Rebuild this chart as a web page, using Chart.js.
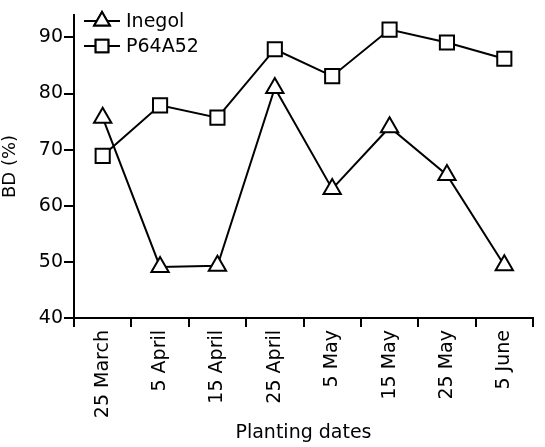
<!DOCTYPE html>
<html>
<head>
  <title>BD by planting date</title>
  <script src="https://cdn.jsdelivr.net/npm/chart.js"></script>
  <style>
    html, body { margin: 0; padding: 0; background: #fff; }
    #wrap { width: 545px; height: 447px; }
  </style>
</head>
<body>
  <div id="wrap"><canvas id="myChart" width="545" height="447"></canvas></div>

  <script>
    // Data
    var dates = ['25 March', '5 April', '15 April', '25 April', '5 May', '15 May', '25 May', '5 June'];
    var inegol = [75.7, 49.1, 49.3, 81, 63, 74, 65.5, 49.4];
    var p64a52 = [68.9, 77.9, 75.7, 87.9, 83.1, 91.4, 89.1, 86.2];
    var yTicks = [40, 50, 60, 70, 80, 90];

    var FONT = 'DejaVu Sans';

    // legend drawn inside the plot, line through marker like the figure
    var insideLegend = {
      id: 'insideLegend',
      afterDraw: function(chart) {
        var ctx = chart.ctx;
        var area = chart.chartArea;
        ctx.save();
        chart.data.datasets.forEach(function(ds, i) {
          var y = area.top + 6 + i * 25;
          var x0 = area.left + 10;
          ctx.strokeStyle = '#000';
          ctx.lineWidth = 2;
          ctx.beginPath();
          ctx.moveTo(x0, y);
          ctx.lineTo(x0 + 36, y);
          ctx.stroke();
          ctx.fillStyle = '#fff';
          Chart.helpers.drawPoint(ctx, {
            pointStyle: ds.pointStyle, radius: 9, borderWidth: 2
          }, x0 + 18, y);
          ctx.fill();
          ctx.stroke();
          ctx.fillStyle = '#000';
          ctx.font = '19px ' + FONT;
          ctx.textBaseline = 'middle';
          ctx.textAlign = 'left';
          ctx.fillText(ds.label, x0 + 42, y + 1);
        });
        ctx.restore();
      }
    };

    var ctx = document.getElementById('myChart').getContext('2d');
    var myChart = new Chart(ctx, {
      type: 'line',
      data: {
        labels: dates,
        datasets: [{
          label: 'Inegol',
          data: inegol,
          borderColor: '#000',
          borderWidth: 2,
          pointStyle: 'triangle',
          pointRadius: 10,
          pointBorderWidth: 2,
          pointBackgroundColor: '#fff',
          pointBorderColor: '#000',
          tension: 0
        }, {
          label: 'P64A52',
          data: p64a52,
          borderColor: '#000',
          borderWidth: 2,
          pointStyle: 'rect',
          pointRadius: 10,
          pointBorderWidth: 2,
          pointBackgroundColor: '#fff',
          pointBorderColor: '#000',
          tension: 0
        }]
      },
      options: {
        responsive: false,
        animation: false,
        layout: { padding: { top: 15, right: 1, left: 0, bottom: 0 } },
        plugins: {
          legend: { display: false },
          tooltip: { enabled: false }
        },
        scales: {
          x: {
            offset: true,
            grid: { display: true, offset: true, drawOnChartArea: false, drawTicks: true, tickLength: 9, color: '#000', lineWidth: 2 },
            border: { display: true, color: '#000', width: 2 },
            ticks: { color: '#000', font: { family: FONT, size: 19 }, minRotation: 90, maxRotation: 90, padding: 3 },
            title: { display: true, text: 'Planting dates', color: '#000', font: { family: FONT, size: 19 }, padding: { top: 0, bottom: 3 } },
            afterFit: function(scale) { scale.height = 447 - 318; }
          },
          y: {
            min: 40,
            max: 94,
            afterBuildTicks: function(scale) {
              scale.ticks = yTicks.map(function(v) { return { value: v }; });
            },
            grid: { display: true, drawOnChartArea: false, drawTicks: true, tickLength: 10, color: '#000', lineWidth: 2 },
            border: { display: true, color: '#000', width: 2 },
            ticks: { color: '#000', font: { family: FONT, size: 19 }, padding: 1 },
            title: { display: true, text: 'BD (%)', color: '#000', font: { family: FONT, size: 18 }, padding: { top: 0, bottom: 2 } },
            afterFit: function(scale) { scale.width = 74; }
          }
        }
      },
      plugins: [insideLegend]
    });
  </script>
</body>
</html>
